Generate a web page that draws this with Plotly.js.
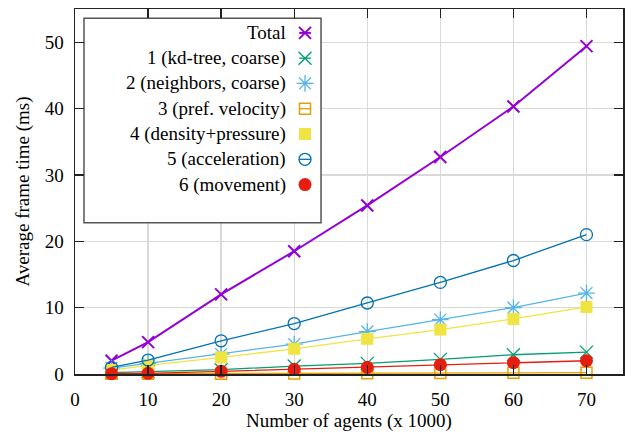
<!DOCTYPE html>
<html>
<head>
<meta charset="utf-8">
<script src="https://cdn.plot.ly/plotly-3.0.1.min.js"></script>
<style>html,body{margin:0;padding:0;background:#fff}#chart{width:635px;height:440px}
#chart text{font-family:"Liberation Serif","DejaVu Serif",serif !important}</style>
</head>
<body>
<div id="chart"></div>
<script>
const agents = [5, 10, 20, 30, 40, 50, 60, 70];
const total = [2.0, 4.8, 12.0, 18.5, 25.4, 32.7, 40.3, 49.4];
const kdtree = [0.2, 0.35, 0.65, 1.2, 1.6, 2.2, 2.9, 3.3];
const neighbors = [0.9, 1.6, 3.0, 4.5, 6.4, 8.2, 10.0, 12.2];
const prefVelocity = [0.02, 0.03, 0.05, 0.07, 0.1, 0.14, 0.17, 0.2];
const densityPressure = [0.6, 1.3, 2.5, 3.8, 5.3, 6.7, 8.3, 10.1];
const acceleration = [1.0, 2.1, 5.0, 7.6, 10.7, 13.8, 17.1, 21.0];
const movement = [0.05, 0.1, 0.4, 0.7, 1.0, 1.4, 1.7, 2.0];

const seriesNames = ["Total", "1 (kd-tree, coarse)", "2 (neighbors, coarse)", "3 (pref. velocity)",
  "4 (density+pressure)", "5 (acceleration)", "6 (movement)"];
const seriesData = [total, kdtree, neighbors, prefVelocity, densityPressure, acceleration, movement];
const colors = ["#9400d3", "#009e73", "#56b4e9", "#e69f00", "#f0e442", "#0072b2", "#e51e10"];
const symbols = ["x-thin-open", "x-thin-open", "asterisk-open", "square-open", "square", "circle-open", "circle"];
const sizes = [12, 13, 14, 11, 12, 12, 13];
const lineWidths = [2, 1.3, 1.3, 1.3, 1.3, 1.3, 1.3];
const markerLineWidths = [2, 1.3, 1.3, 1.5, 0, 1.3, 0];

const FONT = "Liberation Serif";
const traces = [];
seriesData.forEach((ys, i) => {
  traces.push({
    x: agents, y: ys, type: "scatter", mode: "lines+markers", name: seriesNames[i],
    line: {color: colors[i], width: lineWidths[i]},
    marker: {symbol: symbols[i], size: sizes[i], color: colors[i],
             line: {color: colors[i], width: markerLineWidths[i]}},
    showlegend: false, cliponaxis: false
  });
});

// custom key (gnuplot style: text right-aligned, sample on the right)
const keyTextX = 29.15, keyMarkX = 31.48, keyY0 = 51.4, keyStep = 3.81;
const annotations = [];
const shapes = [{type: "rect", xref: "x", yref: "y", x0: 1.23, x1: 33.67, y0: 22.8, y1: 53.6,
  fillcolor: "#ffffff", line: {color: "#555555", width: 1.5}, layer: "between"}];
seriesNames.forEach((nm, i) => {
  const ky = keyY0 - i * keyStep;
  annotations.push({x: keyTextX, y: ky, xref: "x", yref: "y", text: nm, showarrow: false,
    xanchor: "right", yanchor: "middle", font: {family: FONT, size: 19, color: "#000"}});
  shapes.push({type: "line", xref: "x", yref: "y", x0: keyMarkX - 0.8, x1: keyMarkX + 0.8, y0: ky, y1: ky,
    line: {color: colors[i], width: lineWidths[i]}, layer: "between"});
  traces.push({x: [keyMarkX], y: [ky], type: "scatter", mode: "markers", showlegend: false, hoverinfo: "skip",
    marker: {symbol: symbols[i], size: sizes[i], color: colors[i],
             line: {color: colors[i], width: markerLineWidths[i]}}});
});

const axisCommon = {
  showline: true, linecolor: "#222", linewidth: 1.5, mirror: "ticks",
  ticks: "inside", ticklen: 9, tickwidth: 1.3, tickcolor: "#222",
  showgrid: true, gridcolor: "#d9d9d9", gridwidth: 1.3, zeroline: false,
  tickfont: {family: FONT, size: 19, color: "#000"}
};
const layout = {
  width: 635, height: 440,
  margin: {l: 75, r: 12, t: 9, b: 66},
  paper_bgcolor: "#fff", plot_bgcolor: "#fff",
  font: {family: FONT, size: 19, color: "#000"},
  showlegend: false,
  xaxis: Object.assign({}, axisCommon, {range: [0, 75], tick0: 0, dtick: 10, ticklabelstandoff: 8,
    title: {text: "Number of agents (x 1000)", font: {family: FONT, size: 19, color: "#000"}, standoff: 4}}),
  yaxis: Object.assign({}, axisCommon, {range: [0, 55], tick0: 0, dtick: 10, ticklabelstandoff: 6,
    title: {text: "Average frame time (ms)", font: {family: FONT, size: 19, color: "#000"}, standoff: 10}}),
  annotations: annotations,
  shapes: shapes
};
Plotly.newPlot("chart", traces, layout, {staticPlot: true, displayModeBar: false});
</script>
</body>
</html>
